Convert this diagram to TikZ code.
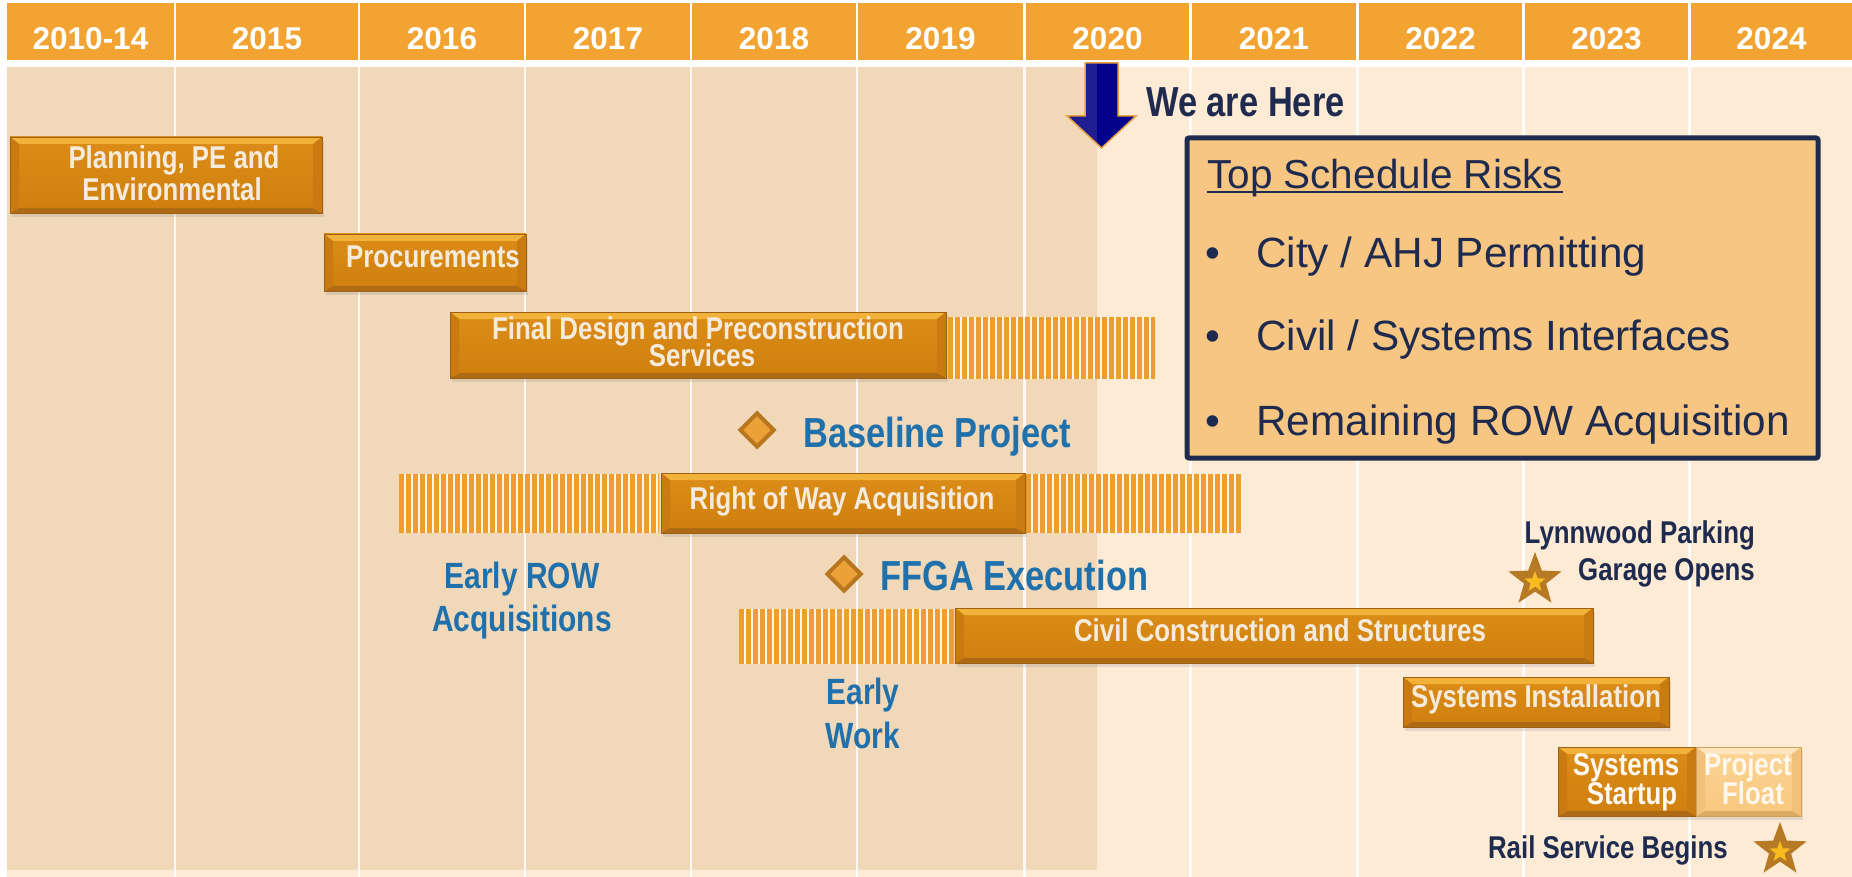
\documentclass[tikz,border=0pt]{standalone}
\usepackage{fontspec}
\setmainfont{Liberation Sans}
\newfontfamily\narrowfont[FakeStretch=0.82]{Liberation Sans}
\usetikzlibrary{shapes.geometric,shadows}
\definecolor{hdrorange}{HTML}{F2A332}
\definecolor{bglight}{HTML}{FDEBD6}
\definecolor{bgdark}{HTML}{F1D8B8}
\definecolor{bartop}{HTML}{DC8C17}
\definecolor{barbot}{HTML}{CF7F0E}
\definecolor{bevtop}{HTML}{F2B23A}
\definecolor{bevbot}{HTML}{AE6A14}
\definecolor{bevside}{HTML}{C97B12}
\definecolor{barline}{HTML}{9C6112}
\definecolor{bartext}{HTML}{F5EBDD}
\definecolor{fltop}{HTML}{FCD595}
\definecolor{flbot}{HTML}{F8C77F}
\definecolor{flbevtop}{HTML}{FDE6BE}
\definecolor{flbevbot}{HTML}{DDAA66}
\definecolor{flbevside}{HTML}{F1C07A}
\definecolor{flline}{HTML}{D2A15C}
\definecolor{fltext}{HTML}{FFF8EE}
\definecolor{hatchcol}{HTML}{EE9E2E}
\definecolor{hatchgap}{HTML}{FFF5E6}
\definecolor{lblblue}{HTML}{1F70AB}
\definecolor{navy}{HTML}{1F2B4E}
\definecolor{riskfill}{HTML}{F7C682}
\definecolor{dmfill}{HTML}{EBA038}
\definecolor{dmline}{HTML}{B8761E}
\definecolor{stargold}{HTML}{B77A24}
\definecolor{staryellow}{HTML}{F8BC1E}
\definecolor{arrowblue}{HTML}{02028C}
\definecolor{arrowedge}{HTML}{E9A242}
\newcommand\barbevel[3]{%
  \fill[#1] (path picture bounding box.north west) -- (path picture bounding box.north east)
    -- ([xshift=-9pt,yshift=-7pt]path picture bounding box.north east)
    -- ([xshift=9pt,yshift=-7pt]path picture bounding box.north west) -- cycle;
  \fill[#2] (path picture bounding box.south west) -- (path picture bounding box.south east)
    -- ([xshift=-9pt,yshift=5pt]path picture bounding box.south east)
    -- ([xshift=9pt,yshift=5pt]path picture bounding box.south west) -- cycle;
  \fill[#3] (path picture bounding box.north west) -- ([xshift=9pt,yshift=-7pt]path picture bounding box.north west)
    -- ([xshift=9pt,yshift=5pt]path picture bounding box.south west) -- (path picture bounding box.south west) -- cycle;
  \fill[#3] (path picture bounding box.north east) -- ([xshift=-9pt,yshift=-7pt]path picture bounding box.north east)
    -- ([xshift=-9pt,yshift=5pt]path picture bounding box.south east) -- (path picture bounding box.south east) -- cycle;
}
\newcommand\ganttbar[6]{%
  \node[#6, minimum width={#4-#2}, minimum height={#5-#3}] (#1) at ({(#2+#4)/2},{(#3+#5)/2}) {};}
\newcommand\hatchbox[4]{%
  \fill[hatchgap] (#1,#2) rectangle (#3,#4);
  \begin{scope}
    \clip (#1,#2) rectangle (#3,#4);
    \pgfmathtruncatemacro\nst{(#3-#1)/7}
    \foreach \i in {0,...,\nst} {\fill[hatchcol] ({#1+7*\i},#2) rectangle ({#1+7*\i+4.6},#4);}
  \end{scope}}
\begin{document}
\begin{tikzpicture}[x=1pt,y=-1pt,
  gbar/.style={rectangle, inner sep=0, draw=barline, line width=0.8pt, top color=bartop, bottom color=barbot,
    drop shadow={shadow xshift=1.5pt, shadow yshift=-4pt, opacity=0.2},
    path picture={\barbevel{bevtop}{bevbot}{bevside}}},
  fbar/.style={rectangle, inner sep=0, draw=flline, line width=0.8pt, top color=fltop, bottom color=flbot,
    drop shadow={shadow xshift=1.5pt, shadow yshift=-4pt, opacity=0.2},
    path picture={\barbevel{flbevtop}{flbevbot}{flbevside}}},
  hdrtxt/.style={font=\bfseries\fontsize{31.5}{36}\selectfont, text=white, anchor=base, inner sep=0},
  bartxt/.style={font=\narrowfont\bfseries\fontsize{31.5}{36}\selectfont, text=bartext, anchor=base, inner sep=0},
  bluetxt/.style={font=\narrowfont\bfseries\fontsize{36.5}{40}\selectfont, text=lblblue, anchor=base, inner sep=0},
  bigblue/.style={font=\narrowfont\bfseries\fontsize{42}{46}\selectfont, text=lblblue, anchor=base west, inner sep=0},
  navytxt/.style={font=\narrowfont\bfseries\fontsize{31.5}{36}\selectfont, text=navy, anchor=base east, inner sep=0},
  risktxt/.style={font=\fontsize{42.3}{48}\selectfont, text=navy, anchor=base west, inner sep=0},
  milestone/.style={diamond, aspect=1, minimum width=35pt, minimum height=35pt, inner sep=0, fill=dmfill, draw=dmline, line width=4pt},
  bigstar/.style={star, star points=5, star point ratio=2.4, minimum size=56pt, inner sep=0, fill=stargold},
  smallstar/.style={star, star points=5, star point ratio=2.4, minimum size=22pt, inner sep=0, fill=staryellow}]
\useasboundingbox (0,0) rectangle (1852,877);
\fill[white] (0,0) rectangle (1852,877);
% header
\foreach \a/\b/\t [count=\i] in {7/174/2010-14,176/358/2015,360/524/2016,526/690/2017,692/856/2018,858/1023/2019,1026/1189/2020,1192/1356/2021,1359/1522/2022,1525/1688/2023,1691/1852/2024}{
  \fill[hdrorange] (\a,3.5) rectangle (\b,60);
  \node[hdrtxt] (hdr\i) at ({(\a+\b)/2},49.5) {\t};
}
% backgrounds
\fill[bglight] (7,67) rectangle (1852,877);
\fill[bgdark] (7,67) rectangle (1097,870);
\foreach \x in {175,359,525,691,857,1024.5,1190.5,1357.5,1523.5,1689.5}
  \draw[white, opacity=0.85, line width=2.5pt] (\x,67) -- (\x,877);
% hatched extensions
\hatchbox{948}{317}{1155}{379}
\hatchbox{399}{474}{659}{533}
\hatchbox{1026}{474}{1242}{533}
\hatchbox{739}{609}{954}{664}
% bars
\ganttbar{plan}{10}{137}{322}{213}{gbar}
\ganttbar{proc}{324}{234}{526}{291}{gbar}
\ganttbar{fdes}{450}{312}{946}{378}{gbar}
\ganttbar{row}{661}{473}{1025}{533}{gbar}
\ganttbar{civil}{955}{608}{1593}{663}{gbar}
\ganttbar{sysi}{1403}{677}{1669}{727}{gbar}
\ganttbar{syss}{1558}{747}{1696}{816}{gbar}
\ganttbar{float}{1696}{747}{1801}{816}{fbar}
% bar texts
\node[bartxt] (tplan1) at (174,169) {Planning, PE and};
\node[bartxt] (tplan2) at (172,201) {Environmental};
\node[bartxt] (tproc) at (433,268) {Procurements};
\node[bartxt, text depth=0pt] (tfd1) at (698,339) {Final Design and Preconstruction};
\node[bartxt] (tfd2) at (702,366) {Services};
\node[bartxt] (trow) at (842,509) {Right of Way Acquisition};
\node[bartxt] (tciv) at (1280,641) {Civil Construction and Structures};
\node[bartxt] (tsysi) at (1536,707) {Systems Installation};
\node[bartxt, text=fltext, text depth=0pt] (tss1) at (1626,775) {Systems};
\node[bartxt, text=fltext] (tss2) at (1632,804) {Startup};
\node[bartxt, text=fltext, text depth=0pt] (tpf1) at (1748,775) {Project};
\node[bartxt, text=fltext] (tpf2) at (1753,804) {Float};
% milestones
\node[milestone] (dbase) at (757,430) {};
\node[milestone] (dffga) at (844,574) {};
\node[bigblue] (baseline) at (803,447) {Baseline Project};
\node[bigblue] (ffga) at (880,590) {FFGA Execution};
\node[bluetxt] (erow1) at (522,588) {Early ROW};
\node[bluetxt] (erow2) at (522,631) {Acquisitions};
\node[bluetxt] (ew1) at (863,704) {Early};
\node[bluetxt] (ew2) at (863,748) {Work};
% we are here arrow
\draw[fill=arrowblue, draw=arrowedge, line width=1.5pt, line join=miter]
  (1085,63) -- (1118,63) -- (1118,116) -- (1136,116) -- (1101.5,148) -- (1067,116) -- (1085,116) -- cycle;
\begin{scope}
  \clip (1060,60) rectangle (1097,150);
  \fill[bgdark, opacity=0.13] (1086,64) -- (1117,64) -- (1117,117) -- (1134,117) -- (1101.5,147) -- (1069,117) -- (1086,117) -- cycle;
\end{scope}
\node[navytxt, anchor=base west, font=\narrowfont\bfseries\fontsize{42}{46}\selectfont] (here) at (1146,117) {We are Here};
% risk box
\node[rectangle, draw=navy, fill=riskfill, line width=5pt, rounded corners=2pt, minimum width=631pt, minimum height=320pt, inner sep=0] (risk) at (1502.5,298) {};
\node[risktxt, font=\fontsize{40.5}{46}\selectfont] (rt) at (1207,189) {Top Schedule Risks};
\draw[navy, line width=2.2pt] ([yshift=-3pt]rt.base west) -- ([yshift=-3pt]rt.base east);
\node[risktxt, anchor=base] (b1) at (1213,268) {\textbullet};
\node[risktxt] (r1) at (1256,268) {City / AHJ Permitting};
\node[risktxt, anchor=base] (b2) at (1213,350) {\textbullet};
\node[risktxt] (r2) at (1256,350) {Civil / Systems Interfaces};
\node[risktxt, anchor=base] (b3) at (1213,435) {\textbullet};
\node[risktxt] (r3) at (1256,435) {Remaining ROW Acquisition};
% stars
\node[bigstar] (star1) at (1535,580) {};
\node[smallstar] (star1i) at (1535,582) {};
\node[bigstar] (star2) at (1780,850) {};
\node[smallstar] (star2i) at (1780,852) {};
\node[navytxt] (lyn1) at (1755,543) {Lynnwood Parking};
\node[navytxt] (lyn2) at (1755,580) {Garage Opens};
\node[navytxt] (rail) at (1728,858) {Rail Service Begins};
\end{tikzpicture}
\end{document}
